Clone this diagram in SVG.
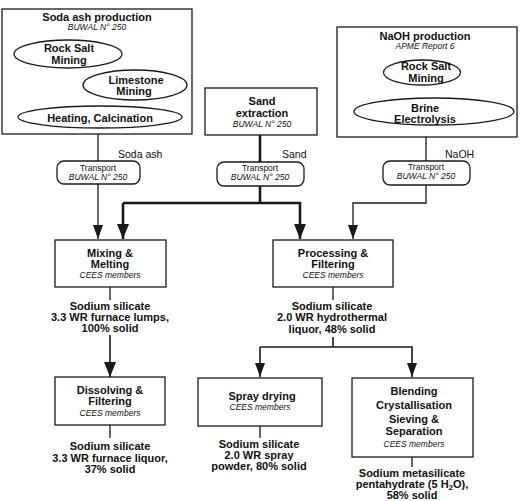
<svg xmlns="http://www.w3.org/2000/svg" width="522" height="501" viewBox="0 0 522 501">
<style>
text{font-family:"Liberation Sans",Arial,sans-serif;fill:#111;text-anchor:middle}
.b{font-weight:bold;font-size:11px}
.i{font-style:italic;font-size:8.5px}
.s{font-size:8.5px}
.l{font-size:10.5px;text-anchor:start}
.box{fill:#fff;stroke:#1a1a1a;stroke-width:1.3}
.ell{fill:#fff;stroke:#1a1a1a;stroke-width:1.3}
.c{fill:none;stroke:#1a1a1a;stroke-width:1.3}
.ct{fill:none;stroke:#1a1a1a;stroke-width:2.6}
.cm{fill:none;stroke:#1a1a1a;stroke-width:1.6}
</style>
<defs>
<marker id="at" viewBox="0 0 15 12" refX="15" refY="6" markerWidth="15" markerHeight="12" markerUnits="userSpaceOnUse" orient="auto"><path d="M0,0 L15,6 L0,12 z" fill="#1a1a1a"/></marker>
<marker id="an" viewBox="0 0 14 10" refX="14" refY="5" markerWidth="14" markerHeight="10" markerUnits="userSpaceOnUse" orient="auto"><path d="M0,0 L14,5 L0,10 z" fill="#1a1a1a"/></marker>
</defs>

<g id="connectors">
<line class="c" x1="70" y1="68" x2="70" y2="106"/>
<line class="c" x1="135" y1="99" x2="135" y2="106"/>
<line class="c" x1="426" y1="85" x2="426" y2="98"/>
<line class="c" x1="98" y1="134" x2="98" y2="161"/>
<line class="c" x1="98" y1="184" x2="98" y2="239" marker-end="url(#an)"/>
<line class="ct" x1="260" y1="135" x2="260" y2="162"/>
<polyline class="ct" points="260,186 260,203"/>
<polyline class="ct" points="123,203 300,203 300,239" marker-end="url(#at)"/>
<line class="ct" x1="123" y1="203" x2="123" y2="239" marker-end="url(#at)"/>
<line class="c" x1="426" y1="137" x2="426" y2="161"/>
<polyline class="c" points="426,185 426,203 353,203 353,239" marker-end="url(#an)"/>
<line class="c" x1="110" y1="287" x2="110" y2="300"/>
<line class="cm" x1="110" y1="335" x2="110" y2="377" marker-end="url(#at)"/>
<line class="c" x1="110" y1="425" x2="110" y2="438"/>
<line class="c" x1="333" y1="287" x2="333" y2="300"/>
<line class="cm" x1="333" y1="337" x2="333" y2="347"/>
<polyline class="cm" points="260,347 412,347 412,377" marker-end="url(#an)"/>
<line class="cm" x1="260" y1="347" x2="260" y2="377" marker-end="url(#an)"/>
<line class="c" x1="260" y1="426" x2="260" y2="438"/>
<line class="c" x1="412" y1="457" x2="412" y2="467"/>
</g>

<g id="soda-ash-production">
<rect class="box" x="2" y="9" width="190" height="125"/>
<text class="b" x="97" y="20.5">Soda ash production</text>
<text class="i" x="97" y="29.5">BUWAL N° 250</text>
</g>
<g id="rock-salt-mining-1">
<ellipse class="ell" cx="68" cy="54" rx="54" ry="14"/>
<text class="b" x="69" y="52">Rock Salt</text>
<text class="b" x="69" y="63.5">Mining</text>
</g>
<g id="limestone-mining">
<ellipse class="ell" cx="135" cy="85" rx="52" ry="15"/>
<text class="b" x="136" y="83.5">Limestone</text>
<text class="b" x="134" y="95">Mining</text>
</g>
<g id="heating-calcination">
<ellipse class="ell" cx="100" cy="117" rx="82" ry="11"/>
<text class="b" x="100" y="121.5">Heating, Calcination</text>
</g>

<g id="naoh-production">
<rect class="box" x="337" y="27" width="180" height="110"/>
<text class="b" x="425" y="39.5">NaOH production</text>
<text class="i" x="425" y="48.5">APME Report 6</text>
</g>
<g id="rock-salt-mining-2">
<ellipse class="ell" cx="422" cy="72.5" rx="38.5" ry="12.5"/>
<text class="b" x="426" y="70">Rock Salt</text>
<text class="b" x="426" y="81.5">Mining</text>
</g>
<g id="brine-electrolysis">
<ellipse class="ell" cx="434" cy="111.5" rx="80" ry="13.5"/>
<text class="b" x="425" y="111.5">Brine</text>
<text class="b" x="425" y="123">Electrolysis</text>
</g>

<g id="sand-extraction">
<rect class="box" x="205" y="88" width="112" height="47"/>
<text class="b" x="262" y="105">Sand</text>
<text class="b" x="262" y="117">extraction</text>
<text class="i" x="262" y="126.7">BUWAL N° 250</text>
</g>

<g id="transport-soda">
<rect class="box" x="57" y="161" width="83" height="23" rx="7"/>
<text class="s" x="98" y="170.5">Transport</text>
<text class="i" x="98" y="179.5">BUWAL N° 250</text>
</g>
<text class="l" x="118" y="158">Soda ash</text>
<g id="transport-sand">
<rect class="box" x="217" y="162" width="87" height="24" rx="7"/>
<text class="s" x="260" y="170.5">Transport</text>
<text class="i" x="260" y="179.5">BUWAL N° 250</text>
</g>
<text class="l" x="282" y="158">Sand</text>
<g id="transport-naoh">
<rect class="box" x="383" y="161" width="87" height="24" rx="7"/>
<text class="s" x="426" y="170">Transport</text>
<text class="i" x="426" y="179">BUWAL N° 250</text>
</g>
<text class="l" x="445" y="158">NaOH</text>

<g id="mixing-melting">
<rect class="box" x="55" y="240" width="111" height="47"/>
<text class="b" x="110" y="256.5">Mixing &amp;</text>
<text class="b" x="110" y="267.5">Melting</text>
<text class="i" x="110" y="277.5">CEES members</text>
</g>
<g id="lumps-label">
<text class="b" x="110" y="309.5">Sodium silicate</text>
<text class="b" x="110" y="321">3.3 WR furnace lumps,</text>
<text class="b" x="110" y="332">100% solid</text>
</g>

<g id="processing-filtering">
<rect class="box" x="273" y="240" width="120" height="47"/>
<text class="b" x="333" y="256.5">Processing &amp;</text>
<text class="b" x="333" y="267.5">Filtering</text>
<text class="i" x="333" y="278">CEES members</text>
</g>
<g id="hydrothermal-label">
<text class="b" x="332" y="309.5">Sodium silicate</text>
<text class="b" x="332" y="321">2.0 WR hydrothermal</text>
<text class="b" x="332" y="332.5">liquor, 48% solid</text>
</g>

<g id="dissolving-filtering">
<rect class="box" x="55" y="377" width="110" height="48"/>
<text class="b" x="110" y="394">Dissolving &amp;</text>
<text class="b" x="110" y="405">Filtering</text>
<text class="i" x="110" y="416">CEES members</text>
</g>
<g id="liquor-label">
<text class="b" x="110" y="450">Sodium silicate</text>
<text class="b" x="110" y="461.5">3.3 WR furnace liquor,</text>
<text class="b" x="110" y="473">37% solid</text>
</g>

<g id="spray-drying">
<rect class="box" x="198" y="378" width="124" height="48"/>
<text class="b" x="262" y="399.5">Spray drying</text>
<text class="i" x="260" y="410">CEES members</text>
</g>
<g id="powder-label">
<text class="b" x="259" y="447.7">Sodium silicate</text>
<text class="b" x="259" y="459">2.0 WR spray</text>
<text class="b" x="259" y="470">powder, 80% solid</text>
</g>

<g id="blending">
<rect class="box" x="352" y="378" width="121" height="79"/>
<text class="b" x="414" y="394.6">Blending</text>
<text class="b" x="414" y="408.6">Crystallisation</text>
<text class="b" x="414" y="423">Sieving &amp;</text>
<text class="b" x="414" y="435.2">Separation</text>
<text class="i" x="414" y="447.3">CEES members</text>
</g>
<g id="metasilicate-label">
<text class="b" x="412" y="476.5">Sodium metasilicate</text>
<text class="b" x="412" y="488">pentahydrate (5 H<tspan font-size="8" dy="2">2</tspan><tspan dy="-2">O),</tspan></text>
<text class="b" x="412" y="498.5">58% solid</text>
</g>
</svg>
